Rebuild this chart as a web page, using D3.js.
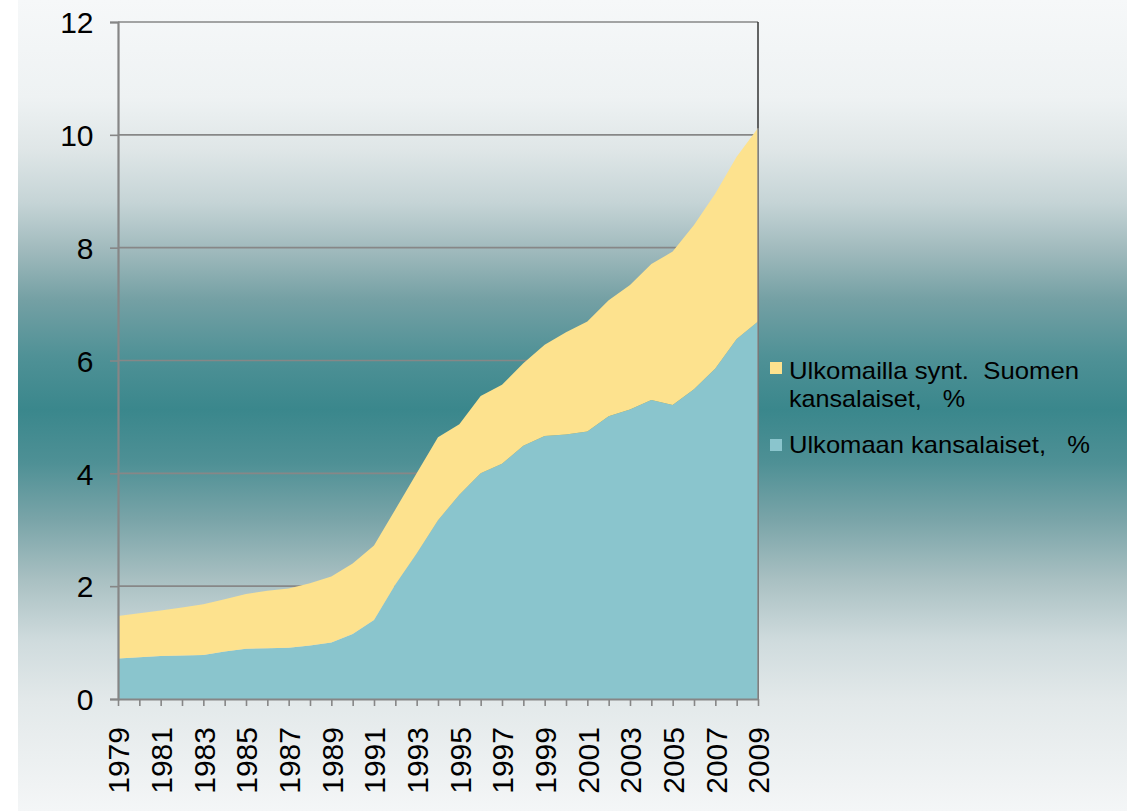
<!DOCTYPE html>
<html>
<head>
<meta charset="utf-8">
<script src="https://cdn.jsdelivr.net/npm/d3@7"></script>
<style>
  html, body { margin: 0; padding: 0; background: #ffffff; }
  svg { display: block; }
  text { font-family: "Liberation Sans", Arial, sans-serif; white-space: pre; }
</style>
</head>
<body>
<svg id="chart" width="1127" height="811"></svg>
<script>
// ---- data ----
const years = d3.range(1979, 2010);
// Ulkomaan kansalaiset, % (bottom series)
const foreignCitizens = [0.72, 0.74, 0.76, 0.77, 0.78, 0.84, 0.89, 0.90, 0.91, 0.95,
  1.00, 1.15, 1.40, 2.03, 2.58, 3.17, 3.62, 4.00, 4.17, 4.49,
  4.66, 4.69, 4.74, 5.01, 5.13, 5.30, 5.21, 5.49, 5.86, 6.38, 6.69];
// Ulkomailla synt. Suomen kansalaiset, % (stacked on top)
const finnsBornAbroad = [0.75, 0.78, 0.81, 0.85, 0.90, 0.93, 0.97, 1.02, 1.05, 1.10,
  1.17, 1.25, 1.32, 1.33, 1.42, 1.47, 1.25, 1.37, 1.40, 1.46,
  1.62, 1.81, 1.95, 2.06, 2.21, 2.41, 2.72, 2.91, 3.10, 3.23, 3.43];
const yTicks = [0, 2, 4, 6, 8, 10, 12];
const xTickLabels = d3.range(1979, 2010, 2);
const legendLabels = {
  finns: ["Ulkomailla synt.  Suomen", "kansalaiset,   %"],
  foreign: ["Ulkomaan kansalaiset,   %"]
};

// ---- setup ----
const svg = d3.select("#chart");
const mLeft = 118, mRight = 758, mTop = 22, mBottom = 699;

const defs = svg.append("defs");
const grad = defs.append("linearGradient").attr("id", "bg")
  .attr("x1", 0).attr("y1", 0).attr("x2", 0).attr("y2", 1);
[[0, "#f6f8f9"], [0.12, "#eef2f3"], [0.185, "#dfe6e7"], [0.25, "#c5d4d6"],
 [0.31, "#9fb9bc"], [0.37, "#74a0a4"], [0.44, "#4f9196"], [0.505, "#3a878c"],
 [0.57, "#4e9095"], [0.64, "#79a4a8"], [0.715, "#a9c0c2"], [0.79, "#cfdbdd"],
 [0.865, "#e3e9ea"], [1, "#f4f6f7"]].forEach(([o, c]) =>
  grad.append("stop").attr("offset", o).attr("stop-color", c));

svg.append("rect").attr("x", 18).attr("y", 0).attr("width", 1127 - 18).attr("height", 811)
  .attr("fill", "url(#bg)");

const x = d3.scaleLinear().domain([1979, 2009]).range([mLeft, mRight]);
const y = d3.scaleLinear().domain([0, 12]).range([mBottom, mTop]);

const data = years.map((yr, i) => ({ year: yr, foreign: foreignCitizens[i], finns: finnsBornAbroad[i] }));
const stack = d3.stack().keys(["foreign", "finns"]);
const series = stack(data);

// gridlines
svg.append("g").selectAll("line").data(yTicks.filter(d => d > 0)).join("line")
  .attr("x1", mLeft).attr("x2", mRight)
  .attr("y1", d => y(d)).attr("y2", d => y(d))
  .attr("stroke", "#878787").attr("stroke-width", 1.6);

// right border
svg.append("line").attr("x1", mRight).attr("x2", mRight).attr("y1", mTop).attr("y2", mBottom)
  .attr("stroke", "#333333").attr("stroke-width", 1.5);

// areas
const area = d3.area()
  .x(d => x(d.data.year))
  .y0(d => y(d[0]))
  .y1(d => y(d[1]));
const colors = { foreign: "#8ac5cd", finns: "#fde28e" };
svg.append("g").selectAll("path").data(series).join("path")
  .attr("d", area)
  .attr("fill", d => colors[d.key]);

// gray right edge over area
const lastTop = series[1][series[1].length - 1][1];
svg.append("line").attr("x1", mRight).attr("x2", mRight).attr("y1", y(lastTop)).attr("y2", mBottom)
  .attr("stroke", "#8a8a8a").attr("stroke-width", 1.5);

const fontFam = "'Liberation Sans', Arial, sans-serif";

// y axis
const yAxis = d3.axisLeft(y).tickValues(yTicks).tickSize(8).tickPadding(16.5).tickFormat(d3.format("d"));
const gy = svg.append("g").attr("transform", `translate(${mLeft},0)`).call(yAxis);
gy.select(".domain").attr("stroke", "#868686").attr("stroke-width", 2.2);
gy.selectAll(".tick line").attr("stroke", "#868686").attr("stroke-width", 1.6);
gy.selectAll(".tick text").attr("fill", "#000").style("font-size", "30px")
  .style("font-family", fontFam).attr("dy", "0.36em");

// x axis
const xAxis = d3.axisBottom(x).tickValues(years).tickSize(7).tickSizeOuter(0)
  .tickFormat(d => xTickLabels.includes(d) ? d : "");
const gx = svg.append("g").attr("transform", `translate(0,${mBottom})`).call(xAxis);
gx.select(".domain").attr("stroke", "#868686").attr("stroke-width", 2.2);
gx.selectAll(".tick line").attr("stroke", "#868686").attr("stroke-width", 1.6);
gx.selectAll(".tick text")
  .attr("fill", "#000").style("font-size", "30px")
  .style("font-family", fontFam)
  .attr("transform", "rotate(-90)")
  .attr("text-anchor", "end")
  .attr("x", -28).attr("y", 0).attr("dy", "0.36em");

// legend
const legendSpec = [
  { key: "finns", sq: 362, base: [378.5, 406.5], len: [290, 176] },
  { key: "foreign", sq: 439, base: [452.5], len: [301] }
];
const lg = svg.append("g");
legendSpec.forEach(it => {
  lg.append("rect").attr("x", 770).attr("y", it.sq).attr("width", 12).attr("height", 12)
    .attr("fill", colors[it.key]);
  legendLabels[it.key].forEach((ln, j) => {
    lg.append("text").attr("x", 789).attr("y", it.base[j]).attr("fill", "#000")
      .style("font-size", "24px").style("font-family", fontFam)
      .attr("textLength", it.len[j]).attr("lengthAdjust", "spacingAndGlyphs")
      .text(ln);
  });
});
</script>
</body>
</html>
